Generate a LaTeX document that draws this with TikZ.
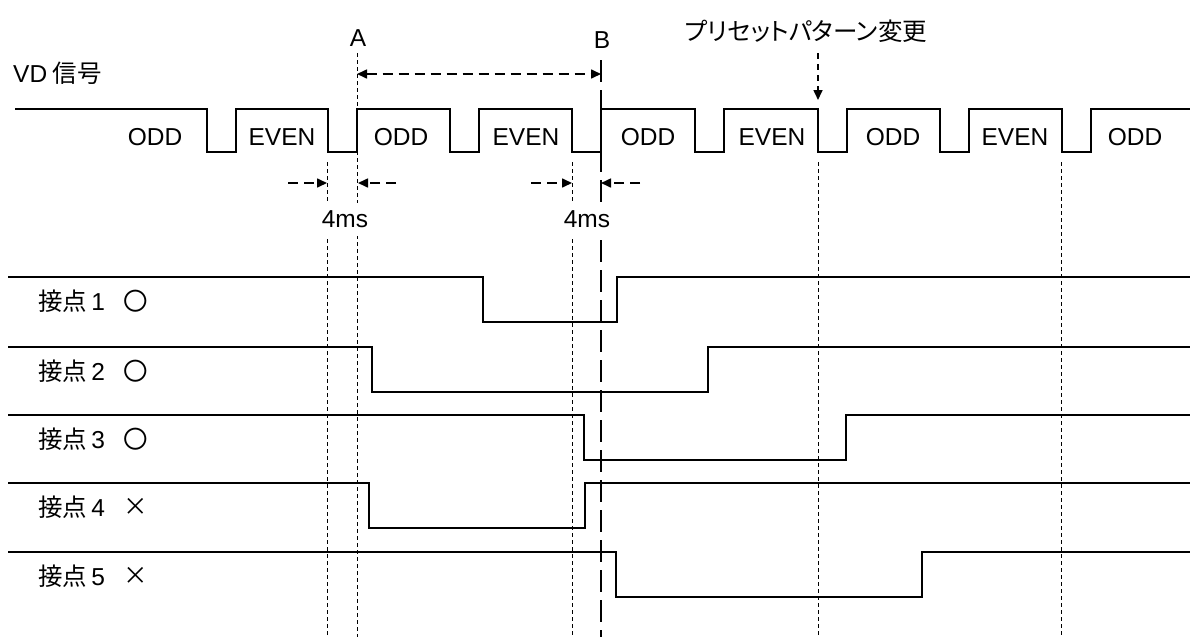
\documentclass[tikz,border=0pt]{standalone}
\usepackage{fontspec}
\setmainfont{Liberation Sans}
\newfontfamily\jpfont[RawFeature=+palt]{Noto Sans CJK JP}
\usetikzlibrary{arrows.meta}
\begin{document}
\begin{tikzpicture}[x=1pt,y=-1pt]
    \tikzstyle{txt}=[inner sep=0pt,font=\fontsize{24.5}{28}\selectfont]
    \tikzstyle{jp}=[inner sep=0pt,font=\fontsize{24.5}{28}\selectfont\jpfont]
    \tikzstyle{vd}=[line width=2.6pt]
    \tikzstyle{contact}=[line width=1.8pt]
    \tikzstyle{guide}=[line width=0.9pt,dash pattern=on 4pt off 3pt]
    \tikzstyle{bline}=[line width=2.5pt,dash pattern=on 22pt off 8pt]
    \tikzstyle{dim}=[line width=1.6pt,dash pattern=on 10pt off 6pt,-{Triangle[length=10pt,width=9pt]}]
    \tikzstyle{dimboth}=[dim,{Triangle[length=10pt,width=9pt]}-{Triangle[length=10pt,width=9pt]}]
    \useasboundingbox (0,0) rectangle (1190,637);
    \draw[guide] (357,53) -- (357,637);
    \foreach \x in {327,572,818,1061}
      \draw[guide] (\x,162) -- (\x,637);
    \draw[bline] (601,60) -- (601,637);
    \draw[vd] (15,109) \foreach \f in {207,328,450,572,695,818,940,1062}{ -- (\f,109) -- (\f,152) -- (\f+29,152) -- (\f+29,109)} -- (1190,109);
    \foreach \t/\x [count=\i] in {ODD/155,EVEN/282,ODD/401,EVEN/526,ODD/648,EVEN/772,ODD/893,EVEN/1015,ODD/1135}
      \node[txt] (fld\i) at (\x,137) {\t};
    \node[jp,anchor=west] (vdlab) at (13,73) {{\rmfamily VD} 信号};
    \node[txt] (lblA) at (358,38) {A};
    \node[txt] (lblB) at (602,40) {B};
    \node[jp] (preset) at (806,31) {プリセットパターン変更};
    \coordinate (presetTip) at (818,100);
    \draw[dim,dash pattern=on 6pt off 5pt] (818,53) -- (presetTip);
    \coordinate (A) at (357,74);
    \coordinate (B) at (601,74);
    \draw[dimboth] (A) -- (B);
    \coordinate (a1) at (327,183);
    \coordinate (a2) at (358,183);
    \coordinate (b1) at (572,183);
    \coordinate (b2) at (601,183);
    \draw[dim] (288,183) -- (a1);
    \draw[dim] (396,183) -- (a2);
    \draw[dim] (531,183) -- (b1);
    \draw[dim] (640,183) -- (b2);
    \node[txt,fill=white,inner xsep=1pt,inner ysep=8pt] (msA) at (345,219.5) {4ms};
    \node[txt,fill=white,inner xsep=1pt,inner ysep=8pt] (msB) at (587,219.5) {4ms};
    \foreach \n/\hy/\fa/\ri/\s in {1/277/483/617/〇,2/347/372/708/〇,3/415/584/846/〇,4/483/369/585/×,5/552/616/922/×}{
      \draw[contact] (8,\hy) -- (\fa,\hy) -- (\fa,\hy+45) -- (\ri,\hy+45) -- (\ri,\hy) -- (1190,\hy);
      \node[jp,anchor=west] (c\n) at (38,\hy+24) {接点\,{\rmfamily\n}};
      \node[jp] (s\n) at (136,\hy+24) {\s};
    }
\end{tikzpicture}
\end{document}
